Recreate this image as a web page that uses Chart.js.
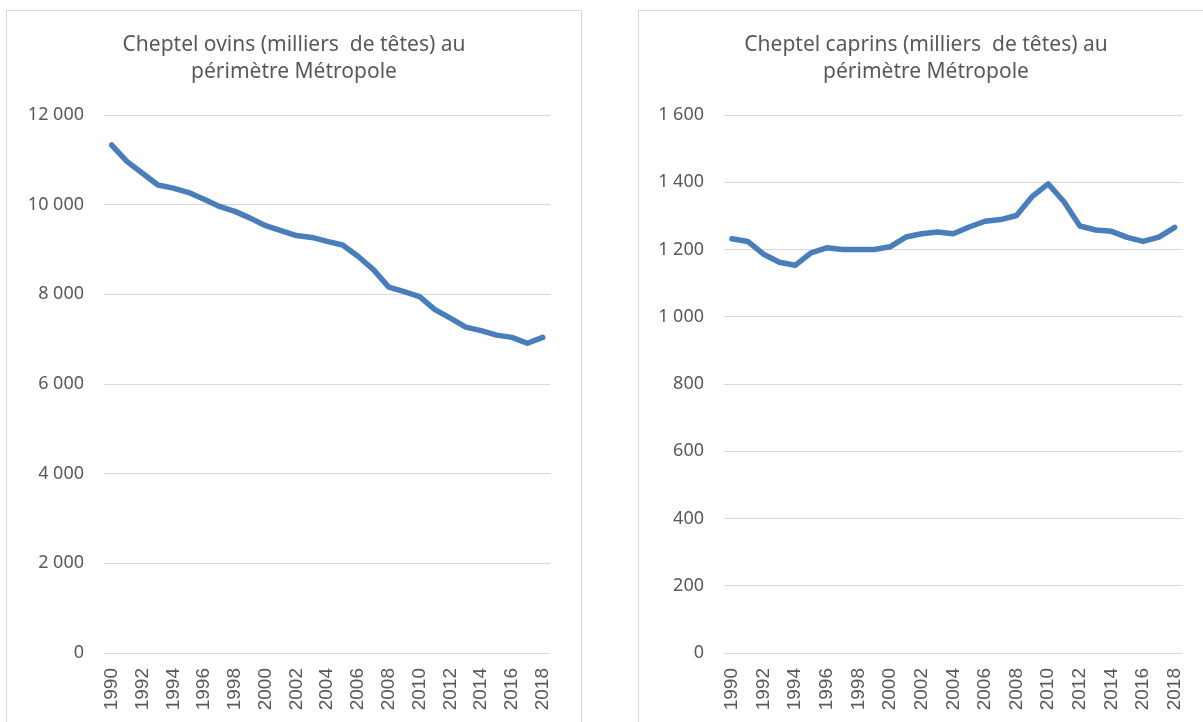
<!DOCTYPE html>
<html><head><meta charset="utf-8">
<script src="https://cdn.jsdelivr.net/npm/chart.js@4"></script>
<style>
html,body{margin:0;padding:0;background:#fff;overflow:hidden;width:1203px;height:722px;}
.box{position:absolute;border:1px solid #d9d9d9;background:#fff;top:10px;width:574px;height:760px;}
#b1{left:6px;}
#b2{left:638px;}
.wrap{position:absolute;left:0;top:0;width:574px;height:711px;}
</style></head><body>
<div class="box" id="b1"><div class="wrap"><canvas id="c1"></canvas></div></div>
<div class="box" id="b2"><div class="wrap"><canvas id="c2"></canvas></div></div>
<script>
const years = [1990,1991,1992,1993,1994,1995,1996,1997,1998,1999,2000,2001,2002,2003,2004,2005,2006,2007,2008,2009,2010,2011,2012,2013,2014,2015,2016,2017,2018];
const ovins = [11330,10960,10700,10440,10370,10270,10120,9960,9850,9700,9530,9420,9310,9270,9180,9100,8850,8550,8160,8060,7950,7660,7470,7270,7190,7090,7040,6910,7040];
const caprins = [1232,1224,1186,1162,1153,1190,1205,1200,1200,1200,1208,1237,1247,1252,1247,1267,1284,1289,1301,1358,1395,1342,1270,1258,1254,1236,1224,1237,1266];
const titleOvins = ["Cheptel ovins (milliers  de têtes) au", "périmètre Métropole"];
const titleCaprins = ["Cheptel caprins (milliers  de têtes) au", "périmètre Métropole"];
const ovinsAxis = {min: 0, max: 12000, step: 2000};
const caprinsAxis = {min: 0, max: 1600, step: 200};

const TXT = '#595959';
const GRID = '#d9d9d9';
function fmt(v){ return String(v).replace(/\B(?=(\d{3})+(?!\d))/g, ' '); }

function makeChart(id, title, values, axis, yWidth){
  new Chart(document.getElementById(id), {
    type: 'line',
    data: { labels: years.map(String), datasets: [{
      data: values, borderColor: '#4a7ebb', borderWidth: 5.5, pointRadius: 0,
      tension: 0, borderCapStyle: 'round', borderJoinStyle: 'round', fill: false }] },
    options: {
      responsive: true, maintainAspectRatio: false, animation: false,
      layout: { padding: 0 },
      plugins: {
        legend: { display: false }, tooltip: { enabled: false },
        title: { display: true, text: title, color: TXT,
          font: { family: 'Noto Sans', size: 21, weight: 'normal', lineHeight: '27px' },
          padding: { top: 20.5, bottom: 29.5 } }
      },
      scales: {
        x: { offset: true,
          grid: { display: false, drawTicks: false },
          border: { display: false },
          ticks: { autoSkip: false, minRotation: 90, maxRotation: 90, padding: 15, color: TXT,
            font: { family: 'Liberation Sans', size: 19 },
            callback: function(v, i){ return i % 2 === 0 ? this.getLabelForValue(v) : ''; } },
          afterFit: s => { s.height = 69; } },
        y: { min: axis.min, max: axis.max,
          grid: { color: GRID, lineWidth: 1, drawTicks: false },
          border: { display: false },
          ticks: { stepSize: axis.step, padding: 20, color: TXT,
            font: { family: 'Noto Sans', size: 18 },
            callback: v => fmt(v) },
          afterFit: s => { s.width = yWidth; } },
        yRight: { position: 'right', min: axis.min, max: axis.max,
          grid: { display: false, drawTicks: false },
          border: { display: false },
          ticks: { display: false },
          afterFit: s => { s.width = 29; } }
      }
    }
  });
}
makeChart('c1', titleOvins, ovins, ovinsAxis, 97);
makeChart('c2', titleCaprins, caprins, caprinsAxis, 85);
</script>
</body></html>
